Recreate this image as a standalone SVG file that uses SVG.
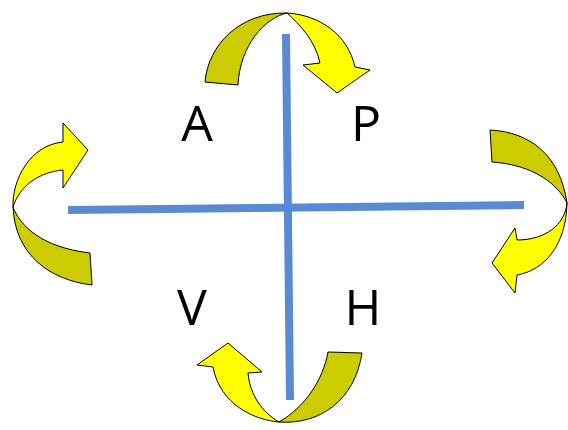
<svg xmlns="http://www.w3.org/2000/svg" width="568" height="430" viewBox="0 0 568 430">
<style>
.lite{fill:#ffff00;stroke:#000;stroke-width:1;stroke-linejoin:round}
.dark{fill:#cccc00;stroke:#000;stroke-width:1;stroke-linejoin:round}
.axis{stroke:#5a8ad2;stroke-width:8;fill:none}
.lbl{font-family:"Open Sans","Liberation Sans",sans-serif;font-size:50px;fill:#000;text-anchor:middle}
</style>
<rect width="568" height="430" fill="#fff"/>
<g id="connectors">
<line class="axis" x1="68" y1="210" x2="524" y2="205"/>
<line class="axis" x1="286" y1="34" x2="290" y2="400"/>
</g>
<g id="arrow-top">
<path class="dark" d="M205,82 C208,45 240,12 287,13 C265,18 240,45 238,85 Z"/>
<path class="lite" d="M287,13 C320,15 348,35 355,67 L370,70 L337,93 L303,65 L320,63 C315,40 300,25 287,13 Z"/>
</g>
<g id="arrow-left">
<path class="lite" d="M63,142 L63,123 L88,150 L63,188 L63,170 C40,172 20,185 13,207 C12,180 30,145 63,142 Z"/>
<path class="dark" d="M13,207 C20,225 40,247 90,253 L92,285 C50,280 15,255 13,207 Z"/>
</g>
<g id="arrow-right">
<path class="dark" d="M490,130 C530,132 560,155 567,203 C558,185 535,165 492,162 Z"/>
<path class="lite" d="M567,203 C565,225 545,240 517,240 L515,228 L492,263 L515,293 L517,275 C545,270 566,245 567,203 Z"/>
</g>
<g id="arrow-bottom">
<path class="lite" d="M279,422 C255,420 220,405 213,367 L197,365 L228,343 L262,372 L248,373 C250,395 262,412 279,422 Z"/>
<path class="dark" d="M279,422 C305,407 323,380 328,352 L362,353 C355,400 320,425 279,422 Z"/>
</g>
<g id="label-A"><text class="lbl" x="197" y="141">A</text></g>
<g id="label-P"><text class="lbl" x="366" y="141">P</text></g>
<g id="label-V"><text class="lbl" x="192" y="325">V</text></g>
<g id="label-H"><text class="lbl" x="363" y="325">H</text></g>
</svg>
